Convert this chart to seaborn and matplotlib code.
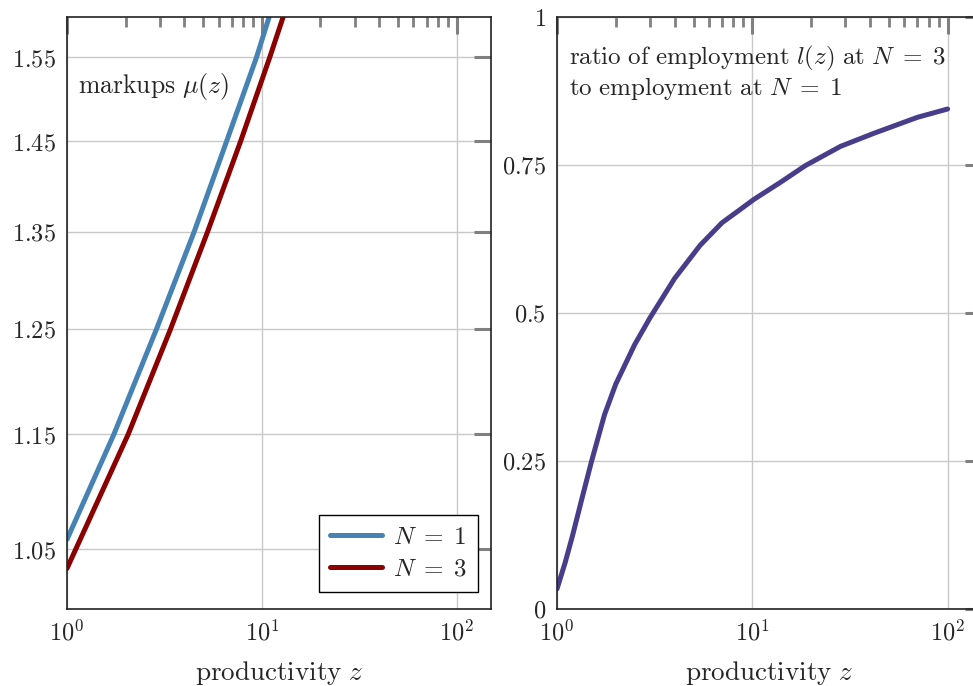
import numpy as np
import pandas as pd
import matplotlib
matplotlib.use('Agg')
import matplotlib.pyplot as plt
from matplotlib.ticker import FuncFormatter, LogLocator, NullLocator
import seaborn as sns

# markups (crossings of the grid lines)
z_n1 = [1.0, 1.742, 2.884, 4.498, 6.592, 9.397, 10.9, 12.0]
mu_n1 = [1.058, 1.15, 1.25, 1.35, 1.45, 1.55, 1.60, 1.633]
z_n3 = [1.0, 2.063, 3.404, 5.27, 7.78, 10.99, 12.86, 14.0]
mu_n3 = [1.034, 1.15, 1.25, 1.35, 1.45, 1.55, 1.60, 1.628]

# employment ratio l(z) at N=3 / N=1
z_ratio = [1.0, 1.1, 1.2, 1.35, 1.5, 1.75, 2.0, 2.5, 3.0, 4.0, 5.41, 7.0, 8.68,
           10.2, 13.9, 18.7, 28.3, 41.9, 70.0, 100.0]
ratio = [0.034, 0.078, 0.1235, 0.190, 0.2485, 0.328, 0.380, 0.4468, 0.4924, 0.5583,
         0.6145, 0.6525, 0.675, 0.692, 0.7205, 0.749, 0.7815, 0.8035, 0.8305, 0.8446]

mu_ticks = [1.05, 1.15, 1.25, 1.35, 1.45, 1.55]
mu_labels = ['$1.05$', '$1.15$', '$1.25$', '$1.35$', '$1.45$', '$1.55$']
ratio_ticks = [0, 0.25, 0.5, 0.75, 1]
ratio_labels = ['$0$', '$0.25$', '$0.5$', '$0.75$', '$1$']

sns.set_style('white')
plt.rcParams['mathtext.fontset'] = 'cm'
plt.rcParams['font.family'] = ['DejaVu Serif']
plt.rcParams['axes.unicode_minus'] = False

tick_gray = '#808080'
grid_gray = '#c8c8c8'

fig = plt.figure(figsize=(9.73, 6.86), dpi=100)
ax1 = fig.add_axes([67 / 973, 77 / 686, 424 / 973, 592 / 686])
ax2 = fig.add_axes([557 / 973, 77 / 686, 425 / 973, 592 / 686])

df_mu = pd.DataFrame({
    'z': z_n1 + z_n3,
    'mu': mu_n1 + mu_n3,
    'N': [r'$N\;=\;1$'] * len(z_n1) + [r'$N\;=\;3$'] * len(z_n3),
})
sns.lineplot(data=df_mu, x='z', y='mu', hue='N', ax=ax1,
             palette=['#4682B4', '#8B0000'], linewidth=3.6, legend=True)
ax1.set_xscale('log')
ax1.set_yscale('log')
ax1.set_xlim(1, 150)
ax1.set_ylim(1.0013, 1.6)
ax1.set_yticks(mu_ticks)
ax1.set_yticklabels(mu_labels)
ax1.yaxis.set_minor_locator(NullLocator())

df_r = pd.DataFrame({'z': z_ratio, 'ratio': ratio})
sns.lineplot(data=df_r, x='z', y='ratio', ax=ax2, color='#483D8B', linewidth=3.6)
ax2.set_xscale('log')
ax2.set_xlim(1, 150)
ax2.set_ylim(0, 1)
ax2.set_yticks(ratio_ticks)
ax2.set_yticklabels(ratio_labels)

for ax in (ax1, ax2):
    ax.xaxis.set_major_locator(LogLocator(base=10))
    ax.xaxis.set_minor_locator(LogLocator(base=10, subs=np.arange(2, 10)))
    ax.xaxis.set_major_formatter(FuncFormatter(lambda v, p: rf'$10^{{{int(round(np.log10(v)))}}}$'))
    ax.grid(True, which='major', color=grid_gray, linewidth=1)
    ax.tick_params(which='major', direction='in', length=12, width=2.2, color=tick_gray,
                   top=True, right=True, labelsize=17.5, pad=8)
    ax.tick_params(which='minor', direction='in', length=7, width=2, color=tick_gray,
                   top=True, right=True)
    for s in ax.spines.values():
        s.set_color('#222222')
        s.set_linewidth(1.2)
    ax.set_xlabel(r'$\mathrm{productivity}\ z$', fontsize=19.5, labelpad=10)
    ax.set_ylabel('')

ax1.text(0.026, 0.883, r'$\mathrm{markups}\ \mu(z)$', transform=ax1.transAxes,
         fontsize=18.5, ha='left', va='center')
ax2.text(0.028, 0.955,
         r'$\mathrm{ratio\ of\ employment}\ l(z)\ \mathrm{at}\ N\;=\;3$' + '\n'
         + r'$\mathrm{to\ employment\ at}\ N\;=\;1$',
         transform=ax2.transAxes, fontsize=18, ha='left', va='top', linespacing=1.12)

leg = ax1.legend(loc='lower right', bbox_to_anchor=(1 - 13 / 424, 17 / 592),
                 borderaxespad=0, fontsize=18, frameon=True, fancybox=False,
                 edgecolor='black', framealpha=1, handlelength=2.05,
                 handletextpad=0.45, borderpad=0.45, labelspacing=0.35, title=None)
leg.get_frame().set_linewidth(1)

fig.savefig('out.png', dpi=100)
